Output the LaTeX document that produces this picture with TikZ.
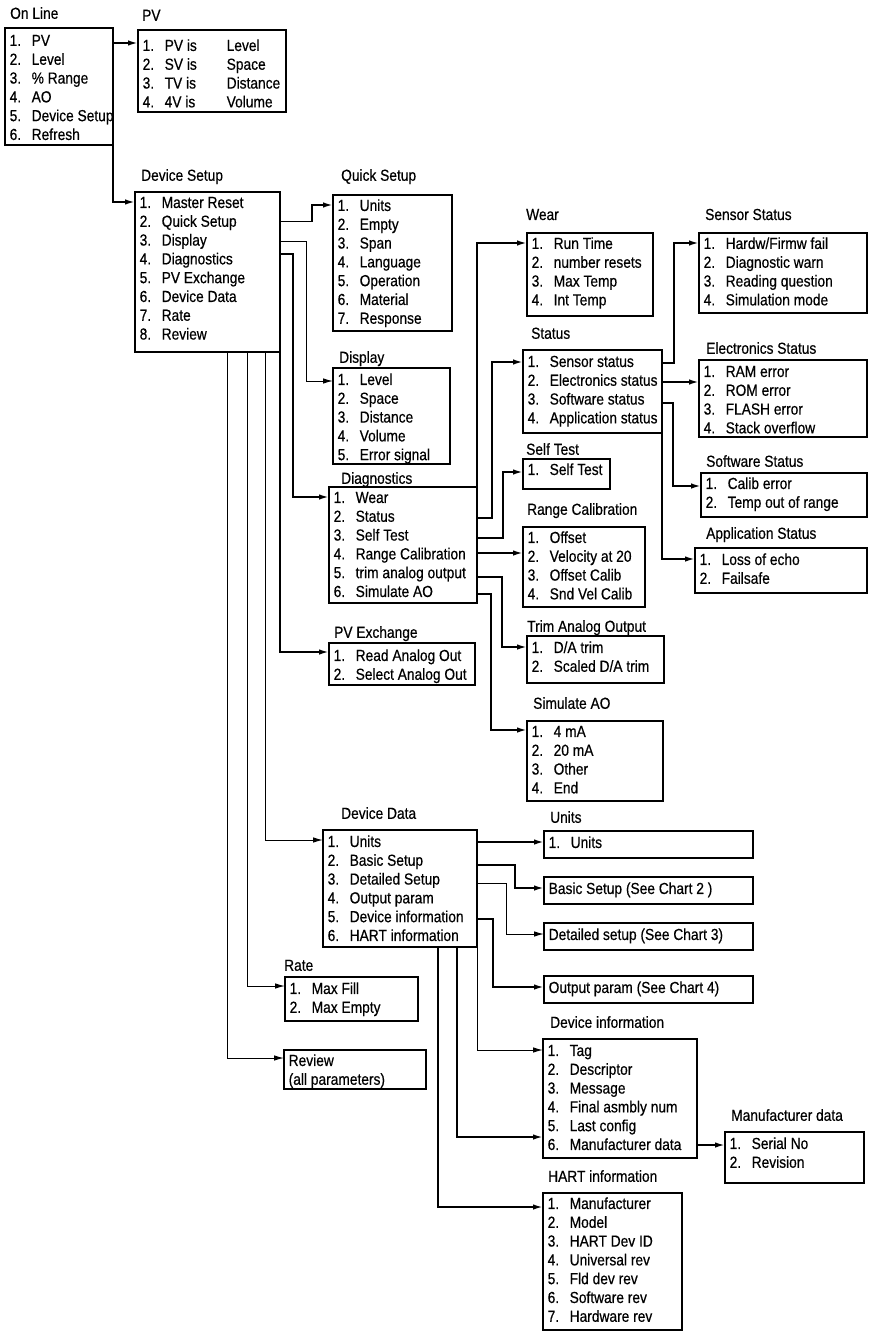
\documentclass[tikz,border=0pt]{standalone}
\usepackage{fontspec}
\setmainfont{Liberation Sans}[FakeStretch=0.86,FakeBold=0.5]
\usetikzlibrary{arrows.meta,calc}
\newcommand\nn[1]{\makebox[22pt][l]{#1}}
\tikzset{
 box/.style={draw, line width=2pt, inner sep=0pt, outer sep=0pt, anchor=north west},
 items/.style={inner sep=0pt, anchor=north west, font=\fontsize{16}{18.8}\selectfont},
 lbl/.style={inner sep=0pt, anchor=base west, font=\fontsize{16}{18.8}\selectfont},
 conn/.style={line width=1.8pt, -{Latex[length=10pt,width=5.5pt]}},
 thinl/.style={line width=1pt},
}
% name x1 y1 x2 y2 dy items
\newcommand\menubox[7]{%
 \node[box, minimum width={#4-#2}, minimum height={#5-#3}] (#1) at (#2,#3) {};
 \node[items] (#1-t) at ($(#1.north west)+(4.5,#6)$) {\begin{tabular}{@{}l@{}}#7\end{tabular}};
}
\begin{document}
\begin{tikzpicture}[x=1pt,y=-1pt]
\useasboundingbox (0,0) rectangle (869,1332);

% ---------- boxes ----------
\menubox{online}{5}{28}{113}{145}{4.6}{\nn{1.}PV\\ \nn{2.}Level\\ \nn{3.}\% Range\\ \nn{4.}AO\\ \nn{5.}Device Setup\\ \nn{6.}Refresh}
\menubox{pv}{138}{30}{286}{112}{7.6}{\nn{1.}\makebox[62pt][l]{PV is}Level\\ \nn{2.}\makebox[62pt][l]{SV is}Space\\ \nn{3.}\makebox[62pt][l]{TV is}Distance\\ \nn{4.}\makebox[62pt][l]{4V is}Volume}
\menubox{ds}{135}{192}{280}{352}{2.6}{\nn{1.}Master Reset\\ \nn{2.}Quick Setup\\ \nn{3.}Display\\ \nn{4.}Diagnostics\\ \nn{5.}PV Exchange\\ \nn{6.}Device Data\\ \nn{7.}Rate\\ \nn{8.}Review}
\menubox{qs}{333}{195}{452}{331}{2.6}{\nn{1.}Units\\ \nn{2.}Empty\\ \nn{3.}Span\\ \nn{4.}Language\\ \nn{5.}Operation\\ \nn{6.}Material\\ \nn{7.}Response}
\menubox{disp}{333}{368}{450}{464}{3.6}{\nn{1.}Level\\ \nn{2.}Space\\ \nn{3.}Distance\\ \nn{4.}Volume\\ \nn{5.}Error signal}
\menubox{diag}{329}{487}{477}{603}{2.6}{\nn{1.}Wear\\ \nn{2.}Status\\ \nn{3.}Self Test\\ \nn{4.}Range Calibration\\ \nn{5.}trim analog output\\ \nn{6.}Simulate AO}
\menubox{pvx}{329}{643}{475}{685}{4.6}{\nn{1.}Read Analog Out\\ \nn{2.}Select Analog Out}
\menubox{wear}{527}{233}{653}{316}{2.6}{\nn{1.}Run Time\\ \nn{2.}number resets\\ \nn{3.}Max Temp\\ \nn{4.}Int Temp}
\menubox{status}{523}{350}{662}{433}{3.6}{\nn{1.}Sensor status\\ \nn{2.}Electronics status\\ \nn{3.}Software status\\ \nn{4.}Application status}
\menubox{selft}{523}{459}{610}{489}{2.6}{\nn{1.}Self Test}
\menubox{rcal}{523}{527}{645}{607}{2.6}{\nn{1.}Offset\\ \nn{2.}Velocity at 20\\ \nn{3.}Offset Calib\\ \nn{4.}Snd Vel Calib}
\menubox{trim}{527}{636}{664}{683}{3.6}{\nn{1.}D/A trim\\ \nn{2.}Scaled D/A trim}
\menubox{sim}{527}{721}{663}{801}{2.6}{\nn{1.}4 mA\\ \nn{2.}20 mA\\ \nn{3.}Other\\ \nn{4.}End}
\menubox{sens}{699}{233}{867}{313}{2.6}{\nn{1.}Hardw/Firmw fail\\ \nn{2.}Diagnostic warn\\ \nn{3.}Reading question\\ \nn{4.}Simulation mode}
\menubox{elec}{699}{360}{867}{437}{3.6}{\nn{1.}RAM error\\ \nn{2.}ROM error\\ \nn{3.}FLASH error\\ \nn{4.}Stack overflow}
\menubox{soft}{701}{473}{867}{517}{2.6}{\nn{1.}Calib error\\ \nn{2.}Temp out of range}
\menubox{app}{695}{548}{867}{593}{3.6}{\nn{1.}Loss of echo\\ \nn{2.}Failsafe}
\menubox{dd}{323}{830}{477}{947}{3.6}{\nn{1.}Units\\ \nn{2.}Basic Setup\\ \nn{3.}Detailed Setup\\ \nn{4.}Output param\\ \nn{5.}Device information\\ \nn{6.}HART information}
\menubox{units}{544}{831}{753}{858}{3.6}{\nn{1.}Units}
\menubox{basic}{544}{877}{753}{904}{3.6}{Basic Setup (See Chart 2 )}
\menubox{detail}{544}{923}{753}{950}{3.6}{Detailed setup (See Chart 3)}
\menubox{output}{544}{976}{753}{1003}{3.6}{Output param (See Chart 4)}
\menubox{di}{543}{1039}{697}{1158}{3.6}{\nn{1.}Tag\\ \nn{2.}Descriptor\\ \nn{3.}Message\\ \nn{4.}Final asmbly num\\ \nn{5.}Last config\\ \nn{6.}Manufacturer data}
\menubox{md}{725}{1132}{864}{1183}{3.6}{\nn{1.}Serial No\\ \nn{2.}Revision}
\menubox{hart}{543}{1193}{682}{1330}{2.6}{\nn{1.}Manufacturer\\ \nn{2.}Model\\ \nn{3.}HART Dev ID\\ \nn{4.}Universal rev\\ \nn{5.}Fld dev rev\\ \nn{6.}Software rev\\ \nn{7.}Hardware rev}
\menubox{rate}{285}{977}{418}{1021}{3.6}{\nn{1.}Max Fill\\ \nn{2.}Max Empty}
\menubox{review}{284}{1050}{426}{1089}{2.6}{Review\\ (all parameters)}

% ---------- labels ----------
\node[lbl] (online-l) at (10,18.8) {On Line};
\node[lbl] (pv-l) at (142,20.8) {PV};
\node[lbl] (ds-l) at (141,180.8) {Device Setup};
\node[lbl] (qs-l) at (341,180.8) {Quick Setup};
\node[lbl] (disp-l) at (339,362.8) {Display};
\node[lbl] (diag-l) at (341,483.8) {Diagnostics};
\node[lbl] (pvx-l) at (334,637.8) {PV Exchange};
\node[lbl] (dd-l) at (341,818.8) {Device Data};
\node[lbl] (rate-l) at (284,970.8) {Rate};
\node[lbl] (wear-l) at (526,220) {Wear};
\node[lbl] (status-l) at (531,338.8) {Status};
\node[lbl] (selft-l) at (526,454.8) {Self Test};
\node[lbl] (rcal-l) at (527,514.8) {Range Calibration};
\node[lbl] (trim-l) at (527,631.8) {Trim Analog Output};
\node[lbl] (sim-l) at (533,708.8) {Simulate AO};
\node[lbl] (sens-l) at (705,220) {Sensor Status};
\node[lbl] (elec-l) at (706,353.8) {Electronics Status};
\node[lbl] (soft-l) at (706,466.8) {Software Status};
\node[lbl] (app-l) at (706,538.8) {Application Status};
\node[lbl] (units-l) at (550,822.8) {Units};
\node[lbl] (di-l) at (550,1027.8) {Device information};
\node[lbl] (md-l) at (731,1120.8) {Manufacturer data};
\node[lbl] (hart-l) at (548,1181.8) {HART information};

% ---------- connectors ----------
\draw[conn] (online.east|-0,43) -- (pv.west|-0,43);
\draw[conn] (online.east|-0,114) |- (ds.west|-0,202);
\draw[thinl] (ds.east|-0,222) -- (312,222);
\draw[conn] (312,222) |- (qs.west|-0,205);
\draw[conn,thinl] (ds.east|-0,242) -- (306,242) |- (disp.west|-0,381);
\draw[conn] (ds.east|-0,254) -- (293,254) |- (diag.west|-0,497);
\draw[conn] (ds.east|-0,277) |- (pvx.west|-0,652);
\draw[conn,thinl] (ds.south -| 265,0) |- (dd.west|-0,840);
\draw[conn,thinl] (ds.south -| 247,0) |- (rate.west|-0,986);
\draw[conn,thinl] (ds.south -| 227,0) |- (review.west|-0,1058);

\draw[conn] (diag.east|-0,497) |- (wear.west|-0,243);
\draw[conn] (diag.east|-0,518) -- (492,518) |- (status.west|-0,362);
\draw[conn] (diag.east|-0,538) -- (503,538) |- (selft.west|-0,472);
\draw[conn] (diag.east|-0,553) -- (rcal.west|-0,553);
\draw[conn] (diag.east|-0,577) -- (502,577) |- (trim.west|-0,647);
\draw[conn] (diag.east|-0,594) -- (491,594) |- (sim.west|-0,730);

\draw[conn] (status.east|-0,363) -- (674,363) |- (sens.west|-0,243);
\draw[conn] (status.east|-0,382) -- (elec.west|-0,382);
\draw[conn] (status.east|-0,403) -- (673,403) |- (soft.west|-0,486);
\draw[conn] (status.east|-0,417) |- (app.west|-0,559);

\draw[conn] (dd.east|-0,842) -- (units.west|-0,842);
\draw[conn] (dd.east|-0,865) -- (515,865) |- (basic.west|-0,888);
\draw[conn,thinl] (dd.east|-0,883) -- (506,883) |- (detail.west|-0,934);
\draw[conn] (dd.east|-0,919) -- (493,919) |- (output.west|-0,987);
\draw[conn,thinl] (dd.east|-0,933) |- (di.west|-0,1050);
\draw[conn] (dd.south -| 457,0) |- (di.west|-0,1137);
\draw[conn] (dd.south -| 438,0) |- (hart.west|-0,1207);
\draw[conn] (di.east|-0,1145) -- (md.west|-0,1145);
\end{tikzpicture}
\end{document}
